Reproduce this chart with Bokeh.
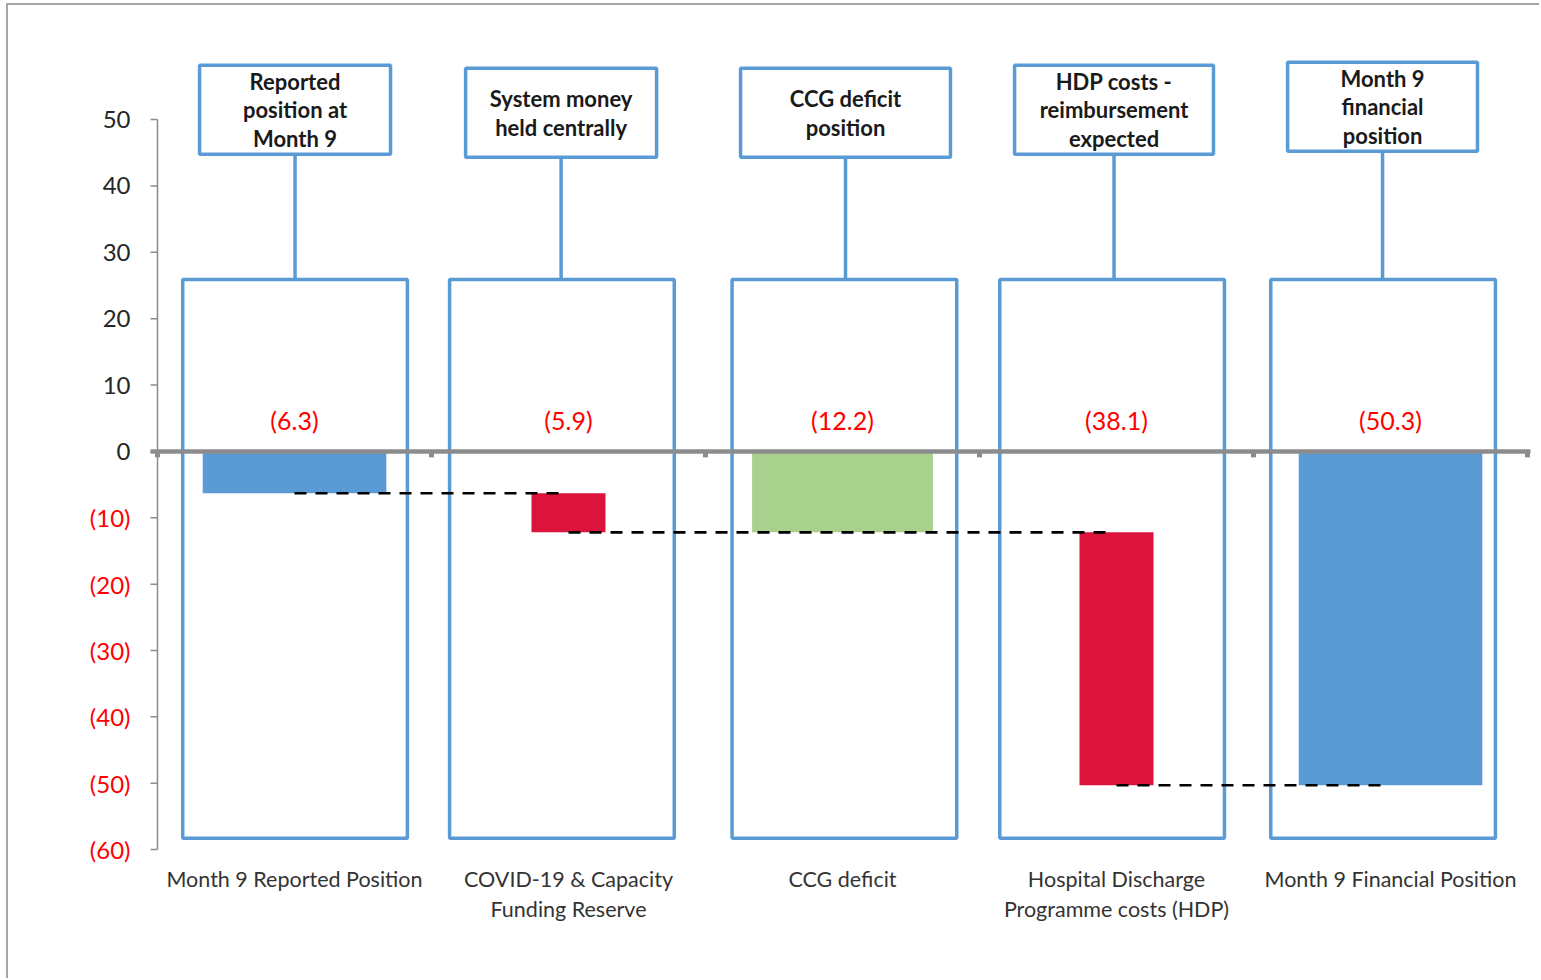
from bokeh.plotting import figure
from bokeh.models import Range1d, ColumnDataSource
from bokeh.embed import file_html
from bokeh.resources import INLINE
from bokeh.core.properties import value

# ---------------- data ----------------
categories = [
    "Month 9 Reported Position",
    "COVID-19 & Capacity\nFunding Reserve",
    "CCG deficit",
    "Hospital Discharge\nProgramme costs (HDP)",
    "Month 9 Financial Position",
]
bar_start = [0, -6.3, 0, -12.2, 0]
bar_end = [-6.3, -12.2, -12.2, -50.3, -50.3]
bar_labels = ["(6.3)", "(5.9)", "(12.2)", "(38.1)", "(50.3)"]
bar_kind = ["total", "change", "subtotal", "change", "total"]
callout_texts = [
    "Reported\nposition at\nMonth 9",
    "System money\nheld centrally",
    "CCG deficit\nposition",
    "HDP costs -\nreimbursement\nexpected",
    "Month 9\nfinancial\nposition",
]
connector_from = [0, 1, 3]
connector_to = [1, 3, 4]
y_ticks = [-60, -50, -40, -30, -20, -10, 0, 10, 20, 30, 40, 50]
y_tick_labels = ["(%d)" % (-t) if t < 0 else str(t) for t in y_ticks]

# ---------------- styles / layout ----------------
BLUE = "#5B9BD5"
RED = "#DC143C"
GREEN = "#A9D18E"
AXIS_GREY = "#8c8c8c"
kind_color = {"total": BLUE, "change": RED, "subtotal": GREEN}
kind_width = {"total": 0.67, "change": 0.27, "subtotal": 0.66}
box_dx = [0.002, -0.024, 0.007, -0.016, -0.027]
box_top, box_bottom, box_w = 25.9, -58.3, 0.82
call_dx = [0.002, -0.027, 0.011, -0.009, -0.029]
call_w = [0.697, 0.697, 0.766, 0.726, 0.693]
call_top = [58.17, 57.71, 57.71, 58.17, 58.62]
call_bot = [44.76, 44.30, 44.30, 44.76, 45.21]
PX = 1 / 274.0          # one pixel in category units

n = len(categories)
xc = [i + 0.5 for i in range(n)]

p = figure(
    width=1533, height=975,
    x_range=Range1d(-149 * PX, n + 14 * PX), y_range=Range1d(-79.72, 67.18),
    output_backend="svg", toolbar_location=None,
    x_axis_location=None, y_axis_location=None,
    min_border_left=0, min_border_right=0,
    min_border_top=0, min_border_bottom=0,
)
p.styles = {
    "margin-left": "6px", "margin-top": "3px",
    "border-left": "2px solid #a6a6a6", "border-top": "2px solid #a6a6a6",
}
p.grid.visible = False
p.outline_line_color = None
p.background_fill_color = "white"
p.border_fill_color = "white"

# value axis: line, outward ticks, labels (black >= 0, red bracketed < 0)
p.segment(x0=0, y0=min(y_ticks), x1=0, y1=max(y_ticks),
          line_color=AXIS_GREY, line_width=1.5)
p.segment(x0=-7 * PX, y0=y_ticks, x1=0, y1=y_ticks,
          line_color=AXIS_GREY, line_width=1.5)
p.text(x=-27 * PX, y=y_ticks, text=y_tick_labels,
       text_color=["#FF0000" if t < 0 else "#262626" for t in y_ticks],
       text_font=value("Lato"), text_font_size="24px",
       text_align="right", text_baseline="middle")

# big outline boxes per category
p.rect(x=[c + d for c, d in zip(xc, box_dx)], y=(box_top + box_bottom) / 2,
       width=box_w, height=box_top - box_bottom,
       fill_color=None, line_color=BLUE, line_width=3.5)

# category-boundary notches on the zero line
p.segment(x0=list(range(n + 1)), y0=0, x1=list(range(n + 1)), y1=-0.9,
          line_color=AXIS_GREY, line_width=5)

# bars
src = ColumnDataSource(dict(
    x=xc,
    top=[max(a, b) for a, b in zip(bar_start, bar_end)],
    bottom=[min(a, b) for a, b in zip(bar_start, bar_end)],
    w=[kind_width[k] for k in bar_kind],
    color=[kind_color[k] for k in bar_kind],
    label=bar_labels,
))
p.vbar(x="x", top="top", bottom="bottom", width="w", source=src,
       fill_color="color", line_color=None)

# zero line
p.segment(x0=-7 * PX, y0=0, x1=n + 3 * PX, y1=0, line_color=AXIS_GREY, line_width=4.5)

# connectors
p.segment(x0=[xc[i] for i in connector_from],
          y0=[bar_end[i] for i in connector_from],
          x1=[xc[j] - 0.027 for j in connector_to],
          y1=[bar_end[i] for i in connector_from],
          line_color="black", line_width=2.6, line_dash="12 9")

# value labels
p.text(x="x", y=4.8, text="label", source=src,
       text_font=value("Lato"), text_font_size="25px", text_color="#FF0000",
       text_align="center", text_baseline="middle")

# callouts
cx = [c + d for c, d in zip(xc, call_dx)]
p.segment(x0=cx, y0=call_bot, x1=cx, y1=box_top, line_color=BLUE, line_width=3.5)
p.quad(left=[c - w / 2 for c, w in zip(cx, call_w)],
       right=[c + w / 2 for c, w in zip(cx, call_w)],
       top=call_top, bottom=call_bot,
       fill_color="white", line_color=BLUE, line_width=3.5)
p.text(x=cx, y=[(a + b) / 2 for a, b in zip(call_top, call_bot)], text=callout_texts,
       text_font=value("Lato"), text_font_style="bold", text_font_size="22px",
       text_color="#1a1a1a", text_align="center", text_baseline="middle",
       text_line_height=1.06)

# category labels
p.text(x=xc, y=-62.5, text=categories,
       text_font=value("Lato"), text_font_size="21.5px", text_color="#333333",
       text_align="center", text_baseline="top", text_line_height=1.16)

open("out.html", "w").write(file_html(p, INLINE))
